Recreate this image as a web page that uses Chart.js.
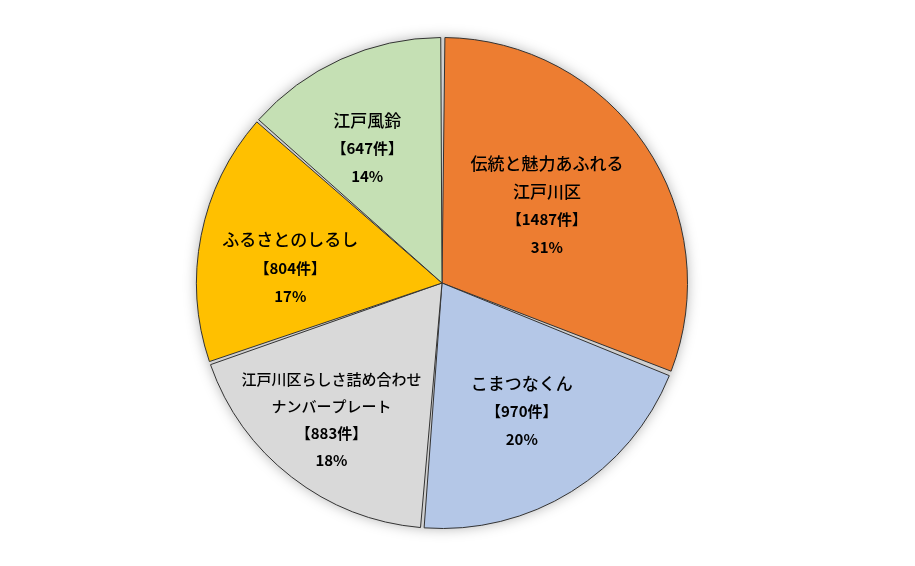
<!DOCTYPE html>
<html lang="ja">
<head>
<meta charset="utf-8">
<title>江戸川区 ナンバープレート</title>
<script src="https://cdn.jsdelivr.net/npm/chart.js@4/dist/chart.umd.min.js"></script>
<style>
  html, body { margin: 0; padding: 0; background: #fff; }
  #wrap { width: 915px; height: 566px; position: relative; }
</style>
</head>
<body>
<div id="wrap"><canvas id="pie"></canvas></div>
<script>
// ---- Data ---------------------------------------------------
const names   = [
  ["伝統と魅力あふれる", "江戸川区"],
  ["こまつなくん"],
  ["江戸川区らしさ詰め合わせ", "ナンバープレート"],
  ["ふるさとのしるし"],
  ["江戸風鈴"],
];
const counts  = [1487, 970, 883, 804, 647];
const percents = [31, 20, 18, 17, 14];
const colors  = ["#ED7D31", "#B4C7E7", "#D9D9D9", "#FFC000", "#C5E0B4"];

// label placement per slice: [radius factor, angle shift in degrees]
const labelPlace = [[0.535, -2.4], [0.62, 0], [0.72, 1.2], [0.625, -5.5], [0.63, -4.8]];

const FONT = "'Noto Sans CJK JP', 'Noto Sans', sans-serif";

// ---- Backdrop disk with soft shadow -------------------------
const backdrop = {
  id: "backdrop",
  beforeDatasetsDraw(chart) {
    const arc = chart.getDatasetMeta(0).data[0];
    if (!arc) return;
    const { ctx } = chart;
    ctx.save();
    ctx.shadowColor = "rgba(0,0,0,0.35)";
    ctx.shadowBlur = 14;
    ctx.fillStyle = "#cfcfcf";
    ctx.beginPath();
    ctx.arc(arc.x, arc.y, arc.outerRadius + 0.5, 0, Math.PI * 2);
    ctx.fill();
    ctx.restore();
  },
};

// ---- Slice labels -------------------------------------------
const sliceLabels = {
  id: "sliceLabels",
  afterDatasetsDraw(chart) {
    const { ctx } = chart;
    const meta = chart.getDatasetMeta(0);
    ctx.save();
    ctx.textAlign = "center";
    ctx.textBaseline = "middle";
    ctx.fillStyle = "#000";
    meta.data.forEach((arc, i) => {
      const [f, shift] = labelPlace[i];
      const mid = (arc.startAngle + arc.endAngle) / 2 + shift * Math.PI / 180;
      const r = arc.outerRadius * f;
      const cx = arc.x + Math.cos(mid) * r;
      const cy = arc.y + Math.sin(mid) * r;
      const small = names[i].some((s) => s.length > 9);
      const lh = small ? 27 : 28;
      const lines = [
        ...names[i].map((t) => ({ t, font: `500 ${small ? 15 : 17}px ${FONT}` })),
        { t: `【${counts[i]}件】`, font: `bold 15px ${FONT}` },
        { t: `${percents[i]}%`, font: `bold 15px ${FONT}` },
      ];
      const top = cy - (lines.length - 1) * lh / 2;
      lines.forEach((ln, k) => {
        ctx.font = ln.font;
        ctx.fillText(ln.t, cx, top + k * lh);
      });
    });
    ctx.restore();
  },
};

new Chart(document.getElementById("pie"), {
  type: "pie",
  data: {
    labels: names.map((n) => n.join("")),
    datasets: [{
      data: counts,
      backgroundColor: colors,
      borderColor: "#333",
      borderWidth: 1,
      spacing: 3,
    }],
  },
  options: {
    responsive: true,
    maintainAspectRatio: false,
    animation: false,
    radius: 244,
    layout: { padding: { left: 0, right: 31, top: 39, bottom: 39 } },
    plugins: {
      legend: { display: false },
      tooltip: { enabled: false },
    },
  },
  plugins: [backdrop, sliceLabels],
});
</script>
</body>
</html>
